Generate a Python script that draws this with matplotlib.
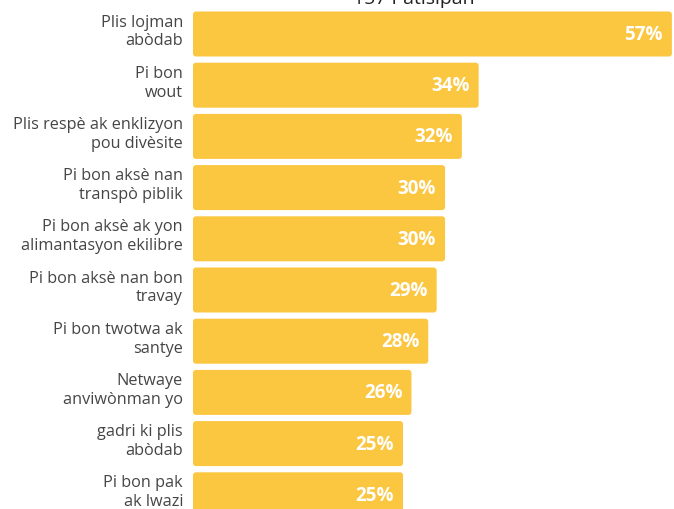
import matplotlib.pyplot as plt
from matplotlib.patches import FancyBboxPatch

categories = [
    "Plis lojman\nabòdab",
    "Pi bon\nwout",
    "Plis respè ak enklizyon\npou divèsite",
    "Pi bon aksè nan\ntranspò piblik",
    "Pi bon aksè ak yon\nalimantasyon ekilibre",
    "Pi bon aksè nan bon\ntravay",
    "Pi bon twotwa ak\nsantye",
    "Netwaye\nanviwònman yo",
    "gadri ki plis\nabòdab",
    "Pi bon pak\nak lwazi",
]
values = [57, 34, 32, 30, 30, 29, 28, 26, 25, 25]
title = "157 Patisipan"

BAR_COLOR = "#FBC640"
W, H = 674, 510

fig = plt.figure(figsize=(W / 100, H / 100), dpi=100)
ax = fig.add_axes([193 / W, 0, 481 / W, 1])

xmax = 57.25
pitch = 51.2
y_top = -35 / pitch
y_bot = (H - 35) / pitch
ax.set_xlim(0, xmax)
ax.set_ylim(y_bot, y_top)

bar_h = 45 / pitch
# rounded bars: convert px radius to data units
x_per_px = xmax / 481
y_per_px = (y_bot - y_top) / H
for i, v in enumerate(values):
    box = FancyBboxPatch(
        (0, i - bar_h / 2), v, bar_h,
        boxstyle=f"round,pad=0,rounding_size={3 * x_per_px}",
        mutation_aspect=y_per_px / x_per_px,
        facecolor=BAR_COLOR, edgecolor="none",
    )
    ax.add_patch(box)
    ax.text(v - 9 * x_per_px, i, f"{v}%", ha="right", va="center",
            color="white", fontsize=13.5, fontweight="bold", family="Open Sans")
    ax.text(-10 * x_per_px, i - 3 * y_per_px, categories[i], ha="right", va="center",
            color="#454545", fontsize=11.7, family="Open Sans",
            linespacing=1.22, clip_on=False)

ax.axis("off")

fig.text(414 / W, 1 - 4 / H, title, ha="center", va="baseline",
         fontsize=14, color="#222222", family="Open Sans")

fig.savefig("out.png", dpi=100)
